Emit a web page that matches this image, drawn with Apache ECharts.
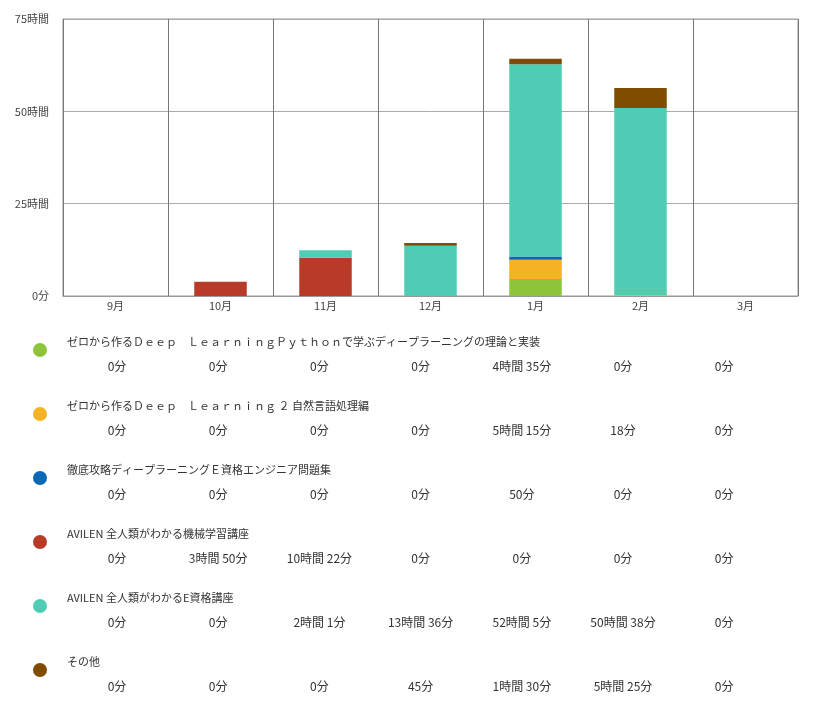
<!DOCTYPE html>
<html>
<head>
<meta charset="utf-8">
<script src="https://cdn.jsdelivr.net/npm/echarts@6/dist/echarts.min.js"></script>
<style>
  html, body { margin: 0; padding: 0; background: #fff; }
  #chart { width: 813px; height: 702px; }
</style>
</head>
<body>
<div id="chart"></div>
<script>
  // months on the x axis
  var months = ['9月', '10月', '11月', '12月', '1月', '2月', '3月']

  // study time per book / course, in minutes
  var seriesNames = [
    'ゼロから作るＤｅｅｐ　ＬｅａｒｎｉｎｇＰｙｔｈｏｎで学ぶディープラーニングの理論と実装',
    'ゼロから作るＤｅｅｐ　Ｌｅａｒｎｉｎｇ ２ 自然言語処理編',
    '徹底攻略ディープラーニングＥ資格エンジニア問題集',
    'AVILEN 全人類がわかる機械学習講座',
    'AVILEN 全人類がわかるE資格講座',
    'その他'
  ]
  var dlPython = [0, 0, 0, 0, 275, 0, 0]
  var dlNlp = [0, 0, 0, 0, 315, 18, 0]
  var eExamBook = [0, 0, 0, 0, 50, 0, 0]
  var avilenMl = [0, 230, 622, 0, 0, 0, 0]
  var avilenE = [0, 0, 121, 816, 3125, 3038, 0]
  var others = [0, 0, 0, 45, 90, 325, 0]
  var seriesValues = [dlPython, dlNlp, eExamBook, avilenMl, avilenE, others]

  var colors = ['#8dc43a', '#f3b322', '#0b68b3', '#b83b2a', '#4ecdb4', '#7f4c00']

  // y axis: 0 .. 75 hours (in minutes)
  var yMax = 4500
  var yStep = 1500

  var font = 'Noto Sans CJK JP'

  function fmtMinutes(m) {
    var h = Math.floor(m / 60)
    var mm = m % 60
    if (h > 0) {
      return h + '時間 ' + mm + '分'
    }
    return mm + '分'
  }

  var chart = echarts.init(document.getElementById('chart'))

  var series = seriesValues.map(function(vals, i) {
    return {
      name: seriesNames[i],
      type: 'bar',
      stack: 'total',
      barWidth: '50%',
      data: vals,
      itemStyle: {
        color: colors[i]
      }
    }
  })

  // legend table below the chart
  var graphic = []
  var rowTop = 342
  var rowGap = 64
  var colStart = 117
  var colStep = 101.2
  seriesNames.forEach(function(name, i) {
    var y = rowTop + i * rowGap
    graphic.push({
      type: 'circle',
      shape: { cx: 40, cy: y + 8, r: 7 },
      style: { fill: colors[i] }
    })
    graphic.push({
      type: 'text',
      x: 67,
      y: y,
      style: {
        text: name,
        fill: '#333',
        fontSize: 11,
        fontFamily: font,
        textAlign: 'left',
        textVerticalAlign: 'middle'
      }
    })
    seriesValues[i].forEach(function(v, j) {
      graphic.push({
        type: 'text',
        x: colStart + j * colStep,
        y: y + 24,
        style: {
          text: fmtMinutes(v),
          fill: '#333',
          fontSize: 12,
          fontFamily: font,
          textAlign: 'center',
          textVerticalAlign: 'middle'
        }
      })
    })
  })

  chart.setOption({
    animation: false,
    textStyle: { fontFamily: font },
    grid: {
      left: 63,
      top: 19,
      width: 735,
      height: 277,
      show: true,
      borderColor: '#999',
      borderWidth: 1
    },
    xAxis: {
      type: 'category',
      data: months,
      axisLine: { lineStyle: { color: '#999' } },
      axisTick: { show: false },
      axisLabel: { color: '#444', fontSize: 11, margin: 4 },
      splitLine: { show: true, lineStyle: { color: '#777' } }
    },
    yAxis: {
      type: 'value',
      min: 0,
      max: yMax,
      interval: yStep,
      axisLine: { show: false },
      axisTick: { show: false },
      axisLabel: {
        color: '#444',
        fontSize: 11,
        margin: 14,
        formatter: function(v) {
          return v === 0 ? '0分' : (v / 60) + '時間'
        }
      },
      splitLine: { lineStyle: { color: '#aaa' } }
    },
    series: series,
    graphic: graphic
  })
</script>
</body>
</html>
